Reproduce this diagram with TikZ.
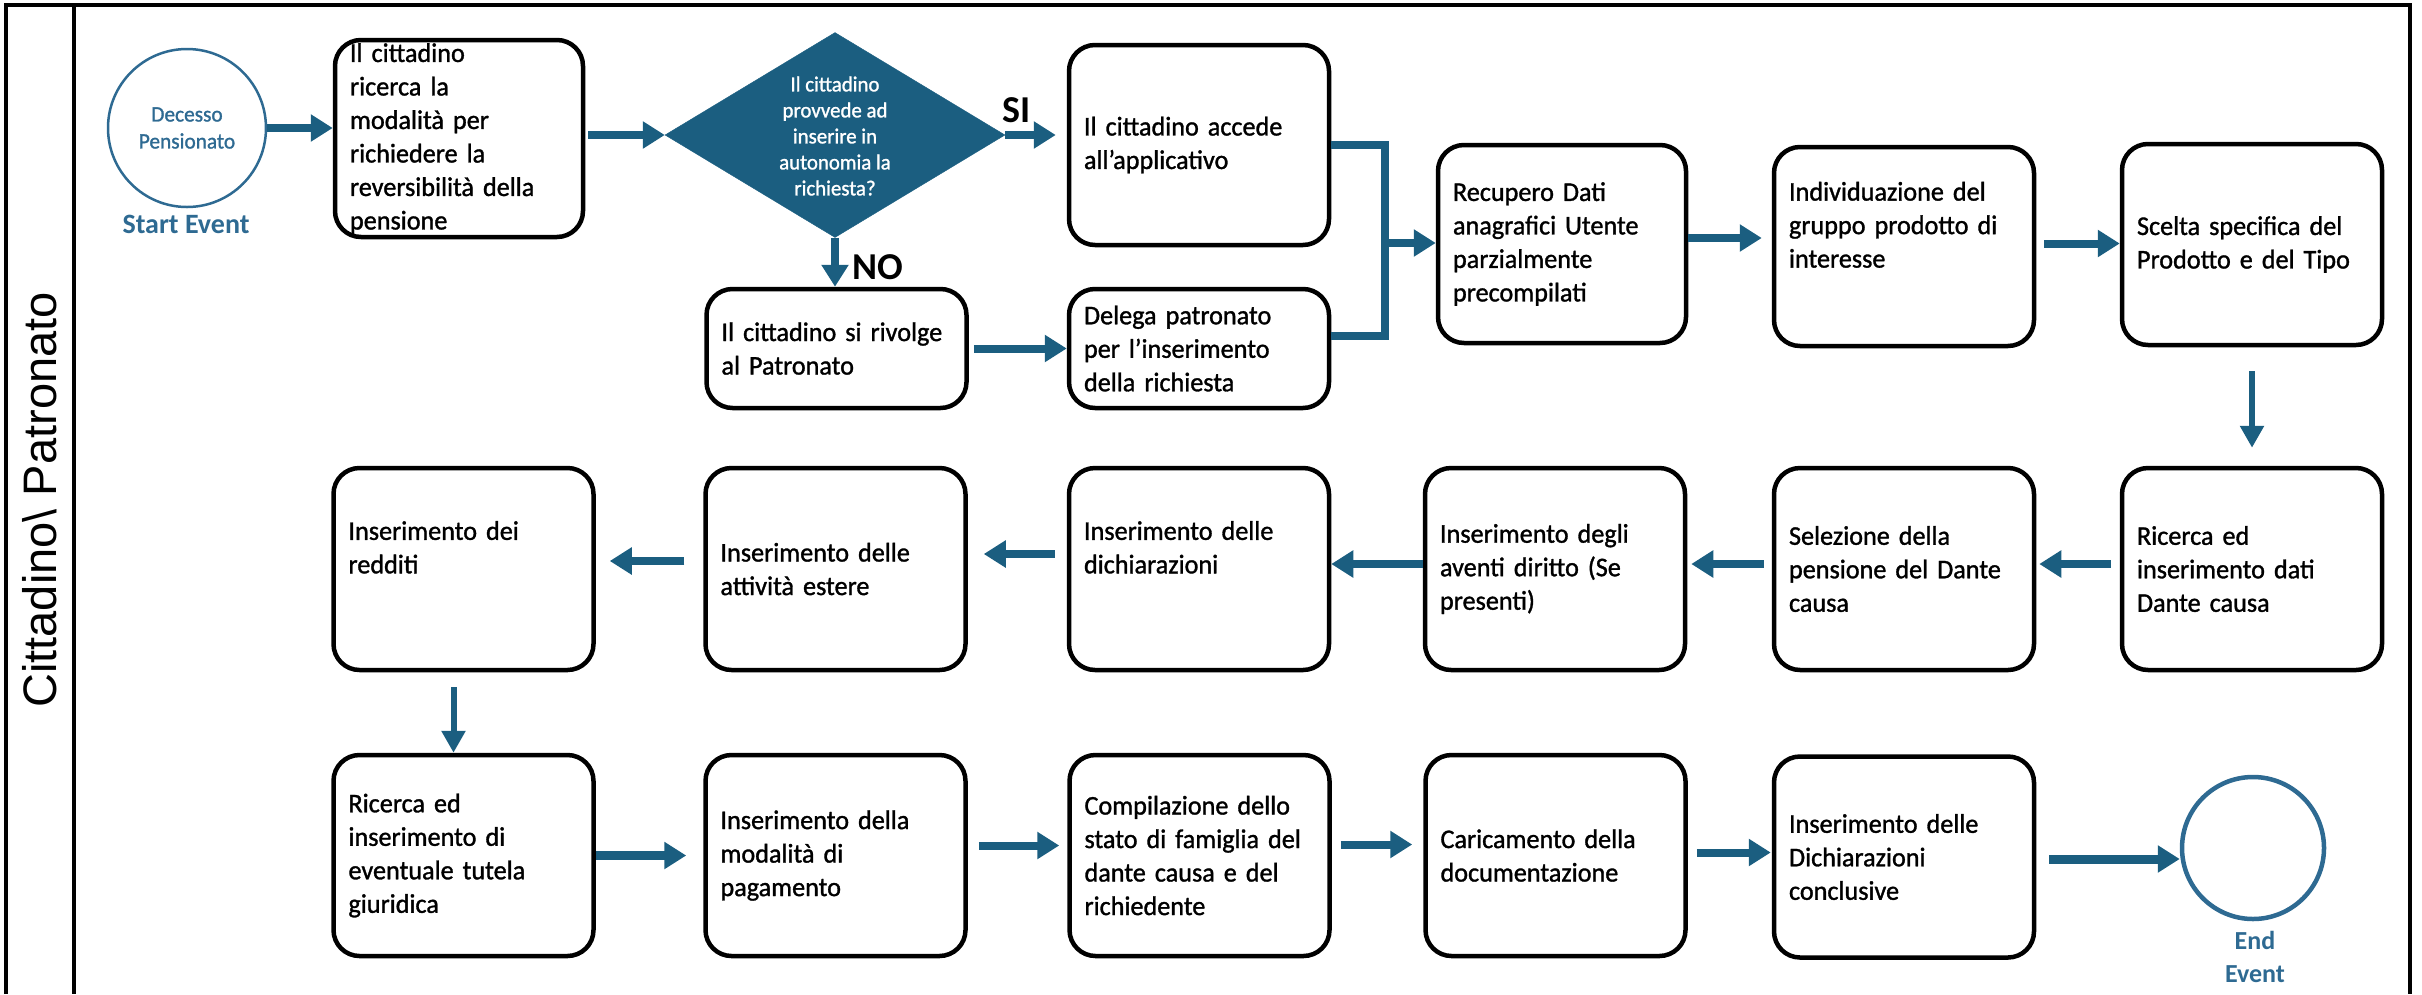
\documentclass[tikz,border=0pt]{standalone}
\usepackage{fontspec}
\setmainfont{Carlito}[FakeStretch=0.97,FakeBold=1.2]
\newfontfamily\plainfont{Carlito}
\newfontfamily\lanefont{Liberation Sans}
\usetikzlibrary{arrows.meta,shapes.geometric,calc}
\definecolor{bpmn}{HTML}{1B5E80}
\definecolor{evblue}{HTML}{2E6A92}
\begin{document}
\begin{tikzpicture}[x=1pt,y=-1pt,
  box/.style={draw=black, line width=4.5pt, rounded corners=26pt, align=left,
    inner xsep=15pt, inner ysep=2pt, font=\fontsize{27}{33.5}\selectfont},
  wide/.style={minimum width=260pt, text width=230pt},
  narrow/.style={minimum width=248pt, text width=218pt},
  arr/.style={draw=bpmn, line width=8pt, -{Triangle[length=22pt,width=26pt]}},
  thinarr/.style={draw=bpmn, line width=6pt, -{Triangle[length=22pt,width=23pt]}},
  conn/.style={draw=bpmn, line width=8pt},
  lbl/.style={font=\plainfont\bfseries\fontsize{38}{44}\selectfont},
  frame/.style={draw=black, line width=4pt}
]
\useasboundingbox (0,0) rectangle (2422,994);
% frame
\draw[frame] (6,994) -- (6,5) -- (2410,5) -- (2410,994);
\draw[frame] (74,5) -- (74,994);
\node[rotate=90, font=\lanefont\fontsize{47}{50}\selectfont] (lane) at (40,500) {Cittadino\textbackslash{} Patronato};

% start event
\node[circle, draw=evblue, line width=2.5pt, minimum size=158pt, inner sep=0pt, text=evblue, align=center,
  font=\fontsize{22}{27}\selectfont] (st) at (187,128) {Decesso\\Pensionato};
\node[text=evblue, font=\plainfont\bfseries\fontsize{28}{33}\selectfont] (stl) at (186,224) {Start Event};

% row 1
\node[box, narrow, minimum height=197pt] (b1) at (459,138.5) {Il cittadino\\ricerca la\\modalità per\\richiedere la\\reversibilità della\\pensione};
\node[diamond, aspect=1.66, fill=bpmn, draw=bpmn, minimum width=340pt, minimum height=205pt, inner sep=0pt] (dia) at (835,135) {};
\node[font=\fontsize{21.5}{26}\selectfont, text=white, align=center] (diat) at (835,136) {Il cittadino\\provvede ad\\inserire in\\autonomia la\\richiesta?};
\node[lbl] (si) at (1017,110) {SI};
\node[lbl] (no) at (878,267) {NO};
\node[box, wide, minimum height=200pt] (acc) at (1199,145) {Il cittadino accede\\all’applicativo};
\node[box, wide, minimum height=119pt] (riv) at (836.5,348.5) {Il cittadino si rivolge\\al Patronato};
\node[box, wide, minimum height=119pt] (del) at (1199,348.5) {Delega patronato\\per l’inserimento\\della richiesta};
\node[box, narrow, minimum height=198pt] (rec) at (1562,244) {Recupero Dati\\anagrafici Utente\\parzialmente\\precompilati};
\node[box, wide, minimum height=199pt] (ind) at (1904,246.5) {Individuazione del\\gruppo prodotto di\\interesse\\\strut};
\node[box, wide, minimum height=201pt] (sce) at (2252,244.5) {Scelta specifica del\\Prodotto e del Tipo};

% row 2
\node[box, wide, minimum height=202pt] (ric) at (2252,569) {Ricerca ed\\inserimento dati\\Dante causa};
\node[box, wide, minimum height=202pt] (sel) at (1904,569) {Selezione della\\pensione del Dante\\causa};
\node[box, wide, minimum height=202pt] (ave) at (1555,569) {Inserimento degli\\aventi diritto (Se\\presenti)};
\node[box, wide, minimum height=202pt] (dic) at (1199,569) {Inserimento delle\\dichiarazioni\\\strut};
\node[box, wide, minimum height=202pt] (att) at (835.5,569) {Inserimento delle\\attività estere};
\node[box, wide, minimum height=202pt] (red) at (463.5,569) {Inserimento dei\\redditi\\\strut};

% row 3
\node[box, wide, minimum height=201pt] (tut) at (463.5,855.5) {Ricerca ed\\inserimento di\\eventuale tutela\\giuridica};
\node[box, wide, minimum height=201pt] (mod) at (835.5,855.5) {Inserimento della\\modalità di\\pagamento};
\node[box, wide, minimum height=201pt] (com) at (1199.5,855.5) {Compilazione dello\\stato di famiglia del\\dante causa e del\\richiedente};
\node[box, wide, minimum height=201pt] (car) at (1555.5,855.5) {Caricamento della\\documentazione};
\node[box, wide, minimum height=201pt] (dcl) at (1904,857) {Inserimento delle\\Dichiarazioni\\conclusive};

% end event
\node[circle, draw=evblue, line width=4.5pt, minimum size=142pt, inner sep=0pt] (en) at (2253,848) {};
\node[text=evblue, align=center, font=\plainfont\bfseries\fontsize{26}{33}\selectfont] (enl) at (2255,957) {End\\Event};

% connectors row 1
\draw[arr] (st.east) -- (st.east -| b1.west);
\draw[arr, shorten <=3pt] (b1.east |- dia.west) -- (dia.west);
\draw[arr, shorten >=11pt] (dia.east) -- (dia.east -| acc.west);
\draw[arr] (dia.south) -- (dia.south |- riv.north);
\draw[arr, shorten <=5pt] (riv.east) -- (del.west);
\coordinate (m) at (1385,243);
\draw[conn] (acc.east) -| (m) |- ([yshift=13pt]del.east);
\draw[arr] (m) -- (m -| rec.west);
\draw[arr, shorten >=10pt] ([yshift=6pt]rec.east) -- ([yshift=6pt]rec.east -| ind.west);
\draw[arr, shorten <=8pt] ([yshift=3pt]ind.east) -- ([yshift=3pt]ind.east -| sce.west);
\draw[thinarr, shorten <=24pt, shorten >=18pt] (sce.south) -- (ric.north);

% connectors row 2
\draw[arr, shorten <=9pt, shorten >=3pt] ([yshift=5pt]ric.west) -- ([yshift=5pt]sel.east);
\draw[arr, shorten <=8pt, shorten >=4pt] ([yshift=5pt]sel.west) -- ([yshift=5pt]ave.east);
\draw[arr] ([yshift=5pt]ave.west) -- ([yshift=5pt]dic.east);
\draw[arr, shorten <=12pt, shorten >=16pt] ([yshift=15pt]dic.west) -- ([yshift=15pt]att.east);
\draw[arr, shorten <=19pt, shorten >=14pt] ([yshift=8pt]att.west) -- ([yshift=8pt]red.east);
\draw[thinarr, shorten <=15pt] ([xshift=-10pt]red.south) -- ([xshift=-10pt]tut.north);

% connectors row 3
\draw[arr, line width=9pt, shorten >=17pt] (tut.east) -- (mod.west);
\draw[arr, shorten <=11pt, shorten >=8pt] ([yshift=10pt]mod.east) -- ([yshift=10pt]com.west);
\draw[arr, shorten <=9pt, shorten >=11pt] ([yshift=11pt]com.east) -- ([yshift=11pt]car.west);
\draw[arr, shorten <=9pt, shorten >=1pt] ([yshift=3pt]car.east) -- ([yshift=3pt]car.east -| dcl.west);
\draw[arr, line width=9pt, shorten <=13pt] ([yshift=-2pt]dcl.east) -- ([yshift=-2pt]dcl.east -| en.west);
\end{tikzpicture}
\end{document}
